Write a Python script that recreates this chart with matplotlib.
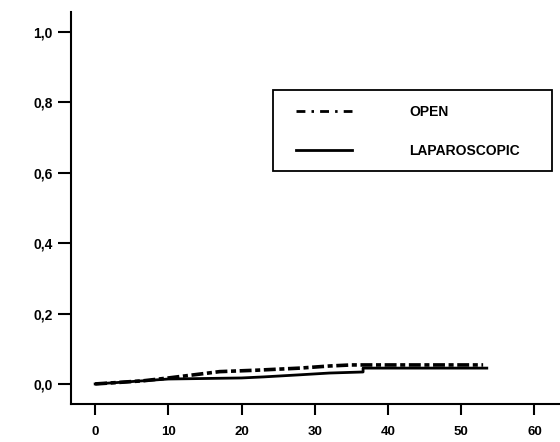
import matplotlib
matplotlib.use("Agg")
import matplotlib.pyplot as plt
from matplotlib.patches import Rectangle
from matplotlib.lines import Line2D

# Data
open_t = [0, 3, 6.6, 10, 14.3, 17, 22, 28, 32, 35, 53]
open_v = [0.0, 0.004, 0.009, 0.017, 0.028, 0.035, 0.039, 0.045, 0.051, 0.054, 0.054]
lap_t = [0, 3, 6.6, 10, 20, 23, 28, 32, 36.6, 36.6, 53.5]
lap_v = [0.0, 0.004, 0.009, 0.014, 0.017, 0.020, 0.026, 0.031, 0.034, 0.045, 0.045]
xticks = [0, 10, 20, 30, 40, 50, 60]
yticks = [0.0, 0.2, 0.4, 0.6, 0.8, 1.0]
ytick_labels = ["0,0", "0,2", "0,4", "0,6", "0,8", "1,0"]
legend_labels = ["OPEN", "LAPAROSCOPIC"]

fam = ["Liberation Sans", "DejaVu Sans"]
plt.rcParams["font.family"] = fam

W, H = 560, 442
fig = plt.figure(figsize=(W / 100, H / 100), dpi=100)
ax = fig.add_axes([71 / W, (H - 404) / H, (W - 71) / W, (404 - 12) / H])

ax.plot(open_t, open_v, color="black", lw=2.6, linestyle=(0, (3.3, 1.0, 1.4, 1.0)))
ax.plot(lap_t, lap_v, color="black", lw=2.0)

ax.set_xlim(-3.3, 63.5)
ax.set_ylim(-0.057, 1.057)
ax.set_xticks(xticks)
ax.set_xticklabels([str(v) for v in xticks])
ax.set_yticks(yticks)
ax.set_yticklabels(ytick_labels)

for s in ["top", "right"]:
    ax.spines[s].set_visible(False)
for s in ["left", "bottom"]:
    ax.spines[s].set_linewidth(1.5)

ax.tick_params(axis="y", direction="out", length=9.4, width=1.5, pad=4,
               labelsize=10)
ax.tick_params(axis="x", direction="out", length=8, width=1.5, pad=8,
               labelsize=9.5)
for lab in ax.get_xticklabels() + ax.get_yticklabels():
    lab.set_fontweight("bold")

# Legend box
fig.patches.append(Rectangle((273 / W, 1 - 171 / H), (552 - 273) / W, (171 - 90) / H,
                             transform=fig.transFigure, fill=False,
                             edgecolor="black", lw=1.3))
handles = [Line2D([], [], color="black", lw=2.0, linestyle=(0, (3.2, 2.2, 0.9, 2.2))),
           Line2D([], [], color="black", lw=2.0)]
leg = fig.legend(handles, legend_labels, loc="upper left",
                 bbox_to_anchor=(283 / W, 1 - 92 / H), frameon=False,
                 handlelength=4.1, handletextpad=4.1, labelspacing=1.85,
                 prop={"family": fam, "weight": "bold", "size": 10})

fig.savefig("out.png", dpi=100)
